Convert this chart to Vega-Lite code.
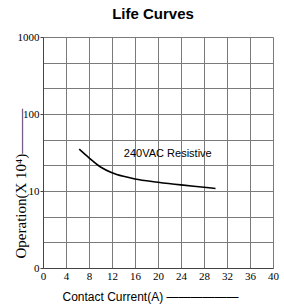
{
  "$schema": "https://vega.github.io/schema/vega-lite/v6.json",
  "width": 230,
  "height": 231,
  "autosize": "none",
  "padding": {"left": 43, "top": 37, "right": 11, "bottom": 38},
  "background": "white",
  "title": {"text": "Life Curves", "font": "Liberation Sans", "fontSize": 15, "fontWeight": "bold", "color": "#000", "offset": 9, "dx": -5},
  "datasets": {
    "curve": [
      {"current": 6.3, "ops": 35},
      {"current": 8, "ops": 27},
      {"current": 10, "ops": 20.5},
      {"current": 12, "ops": 17.3},
      {"current": 14, "ops": 15.5},
      {"current": 16, "ops": 14.3},
      {"current": 20, "ops": 13},
      {"current": 24, "ops": 12},
      {"current": 28, "ops": 11.2},
      {"current": 30, "ops": 10.8}
    ],
    "note": [{"current": 21.7, "ops": 30, "label": "240VAC Resistive"}]
  },
  "encoding": {
    "x": {
      "field": "current", "type": "quantitative",
      "scale": {"domain": [0, 40], "nice": false, "zero": false},
      "axis": {
        "values": [0, 4, 8, 12, 16, 20, 24, 28, 32, 36, 40],
        "title": "Contact Current(A) ——————",
        "titleFont": "Liberation Sans", "titleFontSize": 12, "titleFontWeight": "normal", "titleColor": "#000",
        "titleAnchor": "start", "titleAlign": "left", "titleBaseline": "middle", "titleX": 19, "titleY": 28,
        "labelFont": "Liberation Serif", "labelFontSize": 11, "labelColor": "#000", "labelPadding": 2,
        "ticks": false, "grid": true, "gridColor": "#7a7a7a", "gridOpacity": 1, "gridWidth": 1,
        "domainColor": "#444", "labelFlush": false
      }
    },
    "y": {
      "field": "ops", "type": "quantitative",
      "scale": {"type": "log", "domain": [1, 1000], "nice": false},
      "axis": {
        "values": [1, 2.154, 4.642, 10, 21.54, 46.42, 100, 215.4, 464.2, 1000],
        "format": ".0f",
        "labelExpr": "datum.value == 1 ? '0' : (datum.value == 10 || datum.value == 100 || datum.value == 1000) ? datum.label : ''",
        "title": "Operation(X 10⁴)———",
        "titleFont": "Liberation Serif", "titleFontSize": 15, "titleFontWeight": "normal", "titleColor": "#000",
        "titleAngle": 270, "titleAlign": "left", "titleBaseline": "middle", "titleX": -23, "titleY": 221,
        "labelFont": "Liberation Serif", "labelFontSize": 11, "labelColor": "#000", "labelPadding": 1,
        "tickSize": 3, "tickColor": "#444",
        "tickOpacity": {"condition": {"test": "datum.value == 10 || datum.value == 100 || datum.value == 1000 || datum.value == 1", "value": 1}, "value": 0},
        "grid": true, "gridColor": "#7a7a7a", "gridOpacity": 1, "gridWidth": 1,
        "domainColor": "#444", "labelFlush": false
      }
    }
  },
  "layer": [
    {
      "data": {"name": "curve"},
      "mark": {"type": "line", "color": "#000", "strokeWidth": 1.6, "interpolate": "monotone"}
    },
    {
      "data": {"name": "note"},
      "mark": {"type": "text", "font": "Liberation Sans", "fontSize": 11, "color": "#000", "align": "center", "baseline": "middle"},
      "encoding": {"text": {"field": "label"}}
    }
  ],
  "config": {"view": {"stroke": null}}
}
